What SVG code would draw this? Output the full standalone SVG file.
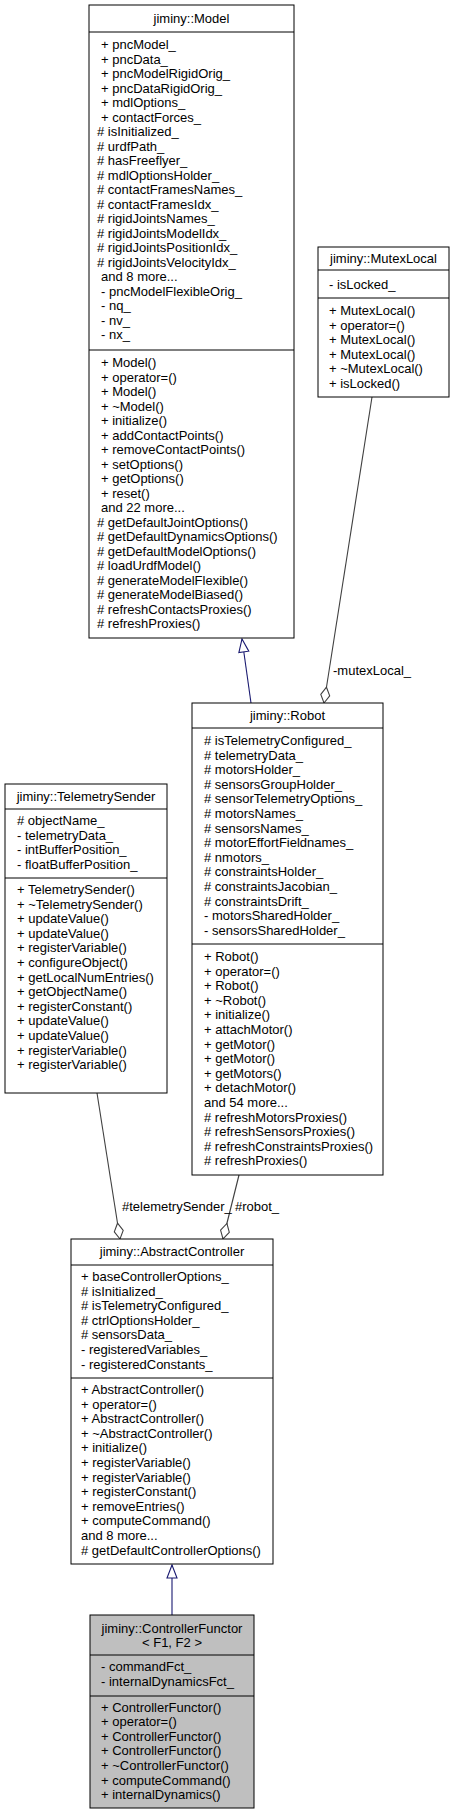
<svg xmlns="http://www.w3.org/2000/svg" width="455" height="1815" viewBox="0 0 455 1815">
<style>
text{font-family:"Liberation Sans",Arial,Helvetica,sans-serif;font-size:13px;fill:#000}
.c{text-anchor:middle}
.box{fill:#fff;stroke:#000;stroke-width:1}
.gray{fill:#bfbfbf}
.sep{stroke:#000;stroke-width:1}
.inh{fill:none;stroke:#191970;stroke-width:1.1}
.comp{fill:none;stroke:#404040;stroke-width:1.1}
</style>
<defs>
<marker id="tri" markerUnits="userSpaceOnUse" viewBox="-1 -1 15 12" refX="13" refY="5" markerWidth="15" markerHeight="12" orient="auto">
<path d="M0,0 L13,5 L0,10 Z" fill="#fff" stroke="#191970" stroke-width="1.1"/>
</marker>
<marker id="dia" markerUnits="userSpaceOnUse" viewBox="-1 -1 18 11" refX="16" refY="4.5" markerWidth="18" markerHeight="11" orient="auto">
<path d="M0,4.5 L8,0 L16,4.5 L8,9 Z" fill="#fff" stroke="#404040" stroke-width="1.1"/>
</marker>
</defs>

<g id="connectors">
<path class="inh" d="M251,703 L242,639" marker-end="url(#tri)"/>
<path class="inh" d="M172,1615 L172,1565" marker-end="url(#tri)"/>
<path class="comp" d="M372,397 L324,703" marker-end="url(#dia)"/>
<path class="comp" d="M239,1175 L223,1239" marker-end="url(#dia)"/>
<path class="comp" d="M97,1093 L120,1239" marker-end="url(#dia)"/>
<text x="333" y="675">-mutexLocal_</text>
<text x="122" y="1211">#telemetrySender_</text>
<text x="235" y="1211">#robot_</text>
</g>

<g id="node-model">
<rect class="box" x="89" y="5" width="205" height="633"/>
<line class="sep" x1="89" y1="32" x2="294" y2="32"/>
<line class="sep" x1="89" y1="350" x2="294" y2="350"/>
<text class="c" x="191.5" y="23">jiminy::Model</text>
<text x="101" y="49">+ pncModel_</text>
<text x="101" y="63.5">+ pncData_</text>
<text x="101" y="78">+ pncModelRigidOrig_</text>
<text x="101" y="92.5">+ pncDataRigidOrig_</text>
<text x="101" y="107">+ mdlOptions_</text>
<text x="101" y="121.5">+ contactForces_</text>
<text x="97" y="136"># isInitialized_</text>
<text x="97" y="150.5"># urdfPath_</text>
<text x="97" y="165"># hasFreeflyer_</text>
<text x="97" y="179.5"># mdlOptionsHolder_</text>
<text x="97" y="194"># contactFramesNames_</text>
<text x="97" y="208.5"># contactFramesIdx_</text>
<text x="97" y="223"># rigidJointsNames_</text>
<text x="97" y="237.5"># rigidJointsModelIdx_</text>
<text x="97" y="252"># rigidJointsPositionIdx_</text>
<text x="97" y="266.5"># rigidJointsVelocityIdx_</text>
<text x="101" y="281">and 8 more...</text>
<text x="101" y="295.5">- pncModelFlexibleOrig_</text>
<text x="101" y="310">- nq_</text>
<text x="101" y="324.5">- nv_</text>
<text x="101" y="339">- nx_</text>
<text x="101" y="367">+ Model()</text>
<text x="101" y="381.5">+ operator=()</text>
<text x="101" y="396">+ Model()</text>
<text x="101" y="410.5">+ ~Model()</text>
<text x="101" y="425">+ initialize()</text>
<text x="101" y="439.5">+ addContactPoints()</text>
<text x="101" y="454">+ removeContactPoints()</text>
<text x="101" y="468.5">+ setOptions()</text>
<text x="101" y="483">+ getOptions()</text>
<text x="101" y="497.5">+ reset()</text>
<text x="101" y="512">and 22 more...</text>
<text x="97" y="526.5"># getDefaultJointOptions()</text>
<text x="97" y="541"># getDefaultDynamicsOptions()</text>
<text x="97" y="555.5"># getDefaultModelOptions()</text>
<text x="97" y="570"># loadUrdfModel()</text>
<text x="97" y="584.5"># generateModelFlexible()</text>
<text x="97" y="599"># generateModelBiased()</text>
<text x="97" y="613.5"># refreshContactsProxies()</text>
<text x="97" y="628"># refreshProxies()</text>
</g>

<g id="node-mutexlocal">
<rect class="box" x="318" y="247" width="131" height="150"/>
<line class="sep" x1="318" y1="270" x2="449" y2="270"/>
<line class="sep" x1="318" y1="298" x2="449" y2="298"/>
<text class="c" x="383.5" y="263">jiminy::MutexLocal</text>
<text x="329" y="289">- isLocked_</text>
<text x="329" y="315">+ MutexLocal()</text>
<text x="329" y="329.5">+ operator=()</text>
<text x="329" y="344">+ MutexLocal()</text>
<text x="329" y="358.5">+ MutexLocal()</text>
<text x="329" y="373">+ ~MutexLocal()</text>
<text x="329" y="387.5">+ isLocked()</text>
</g>

<g id="node-robot">
<rect class="box" x="192" y="703" width="191" height="472"/>
<line class="sep" x1="192" y1="728" x2="383" y2="728"/>
<line class="sep" x1="192" y1="944" x2="383" y2="944"/>
<text class="c" x="287.5" y="720">jiminy::Robot</text>
<text x="204" y="745"># isTelemetryConfigured_</text>
<text x="204" y="759.6"># telemetryData_</text>
<text x="204" y="774.2"># motorsHolder_</text>
<text x="204" y="788.8"># sensorsGroupHolder_</text>
<text x="204" y="803.4"># sensorTelemetryOptions_</text>
<text x="204" y="818"># motorsNames_</text>
<text x="204" y="832.6"># sensorsNames_</text>
<text x="204" y="847.2"># motorEffortFieldnames_</text>
<text x="204" y="861.8"># nmotors_</text>
<text x="204" y="876.4"># constraintsHolder_</text>
<text x="204" y="891"># constraintsJacobian_</text>
<text x="204" y="905.6"># constraintsDrift_</text>
<text x="204" y="920.2">- motorsSharedHolder_</text>
<text x="204" y="934.8">- sensorsSharedHolder_</text>
<text x="204" y="961">+ Robot()</text>
<text x="204" y="975.6">+ operator=()</text>
<text x="204" y="990.2">+ Robot()</text>
<text x="204" y="1004.8">+ ~Robot()</text>
<text x="204" y="1019.4">+ initialize()</text>
<text x="204" y="1034">+ attachMotor()</text>
<text x="204" y="1048.6">+ getMotor()</text>
<text x="204" y="1063.2">+ getMotor()</text>
<text x="204" y="1077.8">+ getMotors()</text>
<text x="204" y="1092.4">+ detachMotor()</text>
<text x="204" y="1107">and 54 more...</text>
<text x="204" y="1121.6"># refreshMotorsProxies()</text>
<text x="204" y="1136.2"># refreshSensorsProxies()</text>
<text x="204" y="1150.8"># refreshConstraintsProxies()</text>
<text x="204" y="1165.4"># refreshProxies()</text>
</g>

<g id="node-telemetrysender">
<rect class="box" x="5" y="784" width="162" height="309"/>
<line class="sep" x1="5" y1="809" x2="167" y2="809"/>
<line class="sep" x1="5" y1="878" x2="167" y2="878"/>
<text class="c" x="86" y="801">jiminy::TelemetrySender</text>
<text x="17" y="825"># objectName_</text>
<text x="17" y="839.6">- telemetryData_</text>
<text x="17" y="854.2">- intBufferPosition_</text>
<text x="17" y="868.8">- floatBufferPosition_</text>
<text x="17" y="894">+ TelemetrySender()</text>
<text x="17" y="908.6">+ ~TelemetrySender()</text>
<text x="17" y="923.2">+ updateValue()</text>
<text x="17" y="937.8">+ updateValue()</text>
<text x="17" y="952.4">+ registerVariable()</text>
<text x="17" y="967">+ configureObject()</text>
<text x="17" y="981.6">+ getLocalNumEntries()</text>
<text x="17" y="996.2">+ getObjectName()</text>
<text x="17" y="1010.8">+ registerConstant()</text>
<text x="17" y="1025.4">+ updateValue()</text>
<text x="17" y="1040">+ updateValue()</text>
<text x="17" y="1054.6">+ registerVariable()</text>
<text x="17" y="1069.2">+ registerVariable()</text>
</g>

<g id="node-abstractcontroller">
<rect class="box" x="71" y="1239" width="202" height="325"/>
<line class="sep" x1="71" y1="1265" x2="273" y2="1265"/>
<line class="sep" x1="71" y1="1378" x2="273" y2="1378"/>
<text class="c" x="172" y="1256">jiminy::AbstractController</text>
<text x="81" y="1281">+ baseControllerOptions_</text>
<text x="81" y="1295.6"># isInitialized_</text>
<text x="81" y="1310.2"># isTelemetryConfigured_</text>
<text x="81" y="1324.8"># ctrlOptionsHolder_</text>
<text x="81" y="1339.4"># sensorsData_</text>
<text x="81" y="1354">- registeredVariables_</text>
<text x="81" y="1368.6">- registeredConstants_</text>
<text x="81" y="1394">+ AbstractController()</text>
<text x="81" y="1408.6">+ operator=()</text>
<text x="81" y="1423.2">+ AbstractController()</text>
<text x="81" y="1437.8">+ ~AbstractController()</text>
<text x="81" y="1452.4">+ initialize()</text>
<text x="81" y="1467">+ registerVariable()</text>
<text x="81" y="1481.6">+ registerVariable()</text>
<text x="81" y="1496.2">+ registerConstant()</text>
<text x="81" y="1510.8">+ removeEntries()</text>
<text x="81" y="1525.4">+ computeCommand()</text>
<text x="81" y="1540">and 8 more...</text>
<text x="81" y="1554.6"># getDefaultControllerOptions()</text>
</g>

<g id="node-controllerfunctor">
<rect class="box gray" x="90" y="1615" width="164" height="193"/>
<line class="sep" x1="90" y1="1655" x2="254" y2="1655"/>
<line class="sep" x1="90" y1="1696" x2="254" y2="1696"/>
<text class="c" x="172" y="1633">jiminy::ControllerFunctor</text>
<text class="c" x="172" y="1647">&lt; F1, F2 &gt;</text>
<text x="101" y="1671">- commandFct_</text>
<text x="101" y="1685.6">- internalDynamicsFct_</text>
<text x="101" y="1711.5">+ ControllerFunctor()</text>
<text x="101" y="1726.1">+ operator=()</text>
<text x="101" y="1740.7">+ ControllerFunctor()</text>
<text x="101" y="1755.3">+ ControllerFunctor()</text>
<text x="101" y="1769.9">+ ~ControllerFunctor()</text>
<text x="101" y="1784.5">+ computeCommand()</text>
<text x="101" y="1799.1">+ internalDynamics()</text>
</g>
</svg>
